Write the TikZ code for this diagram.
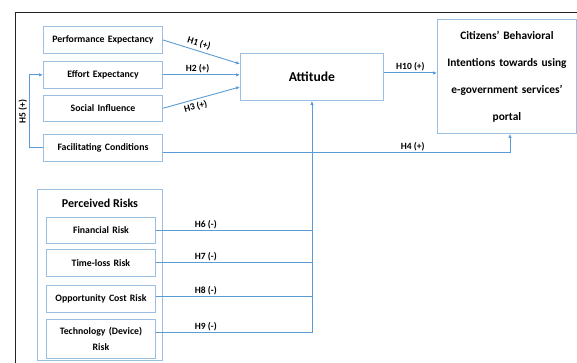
\documentclass[tikz,border=0pt]{standalone}
\usepackage{fontspec}
\setmainfont{Carlito}
\usetikzlibrary{arrows.meta, positioning, calc}
\definecolor{boxblue}{RGB}{155,190,225}
\definecolor{linkblue}{RGB}{91,155,213}
\definecolor{framegray}{RGB}{35,35,35}
\tikzset{
	box/.style={draw=boxblue, line width=0.9pt, inner sep=0pt, align=center, font=\bfseries\fontsize{9.8}{16}\selectfont},
	hyp/.style={linkblue, line width=0.9pt, -{Latex[length=4pt,width=3.5pt]}},
	link/.style={linkblue, line width=0.9pt},
	hlabel/.style={font=\bfseries\fontsize{9.5}{11}\selectfont, inner sep=1.5pt, text=black}
}

\begin{document}
\begin{tikzpicture}[x=1pt,y=-1pt]
		\useasboundingbox (0,0) rectangle (577,363);
		\draw [framegray,line width=1pt] (15,363) -- (15,13) -- (577,13);
		
		%----------------------------------------------------------------
		\node(perf) [box,text width=119pt,minimum height=27pt,anchor=north west] at (43,26) {Performance Expectancy};
		\node(effort) [box,text width=119pt,minimum height=27pt,below=7pt of perf] {Effort Expectancy};
		\node(social) [box,text width=119pt,minimum height=26pt,below=6pt of effort] {Social Influence};
		\node(fc) [box,text width=119pt,minimum height=27pt,below=12pt of social] {Facilitating Conditions};
		
		\node(att) [box,text width=143pt,minimum height=47pt,anchor=north west,font=\bfseries\fontsize{13.6}{15}\selectfont] at (240,53) {Attitude};
		\node(intent) [box,text width=139pt,minimum height=114pt,anchor=north west,font=\bfseries\fontsize{11.4}{27}\selectfont] at (437,19) {Citizens’ Behavioral \\ Intentions towards using \\ e-government services’ \\ portal};
		
		%----------------------------------------------------------------
		\node(risks) [box,text width=125pt,minimum height=171pt,anchor=north west] at (37,189) {};
		\node(risktitle) [font=\bfseries\fontsize{12}{14}\selectfont,inner sep=0pt] at (100,203) {Perceived Risks};
		\node(fin) [box,text width=109pt,minimum height=26pt,anchor=north west] at (46,217) {Financial Risk};
		\node(time) [box,text width=109pt,minimum height=27pt,below=5pt of fin] {Time-loss Risk};
		\node(opp) [box,text width=109pt,minimum height=27pt,below=8pt of time] {Opportunity Cost Risk};
		\node(tech) [box,text width=109pt,minimum height=39pt,below=6pt of opp] {Technology (Device) \\ Risk};
		
		%----------------------------------------------------------------
		\draw [hyp] (perf.east) -- ($(att.west)+(0,-13)$) node[hlabel,pos=0.44,above=1pt,sloped] {H1 (+)};
		\draw [hyp] (effort.east) -- (effort.east -| att.west) node[hlabel,pos=0.45,above=0pt] {H2 (+)};
		\draw [hyp] (social.east) -- ($(att.west)+(0,10)$) node[hlabel,pos=0.4,below=1pt,sloped] {H3 (+)};
		\draw [hyp] (fc.west) -- ++(-14,0) |- (effort.west) node[hlabel,pos=0.25,above=0pt,sloped] {H5 (+)};
		\draw [hyp] ([yshift=4pt]att.east) -- ([yshift=4pt]att.east -| intent.west) node[hlabel,midway,above=0pt] {H10 (+)};
		\draw [hyp] ([yshift=-5pt]fc.east) -| ([xshift=3pt]intent.south) node[hlabel,pos=0.36,above=0pt] {H4 (+)};
		
		%----------------------------------------------------------------
		\draw [link] (fin.east) -- (fin.east -| att.south) node[hlabel,pos=0.32,above=0pt] {H6 (-)};
		\draw [link] (time.east) -- (time.east -| att.south) node[hlabel,pos=0.32,above=0pt] {H7 (-)};
		\draw [link] ([yshift=2pt]opp.east) -- ([yshift=2pt]opp.east -| att.south) node[hlabel,pos=0.32,above=0pt] {H8 (-)};
		\draw [link] ([yshift=6pt]tech.east) -- ([yshift=6pt]tech.east -| att.south) node[hlabel,pos=0.32,above=0pt] {H9 (-)};
		\draw [hyp] ([yshift=6pt]tech.east -| att.south) -- (att.south);
		
\end{tikzpicture}
\end{document}
